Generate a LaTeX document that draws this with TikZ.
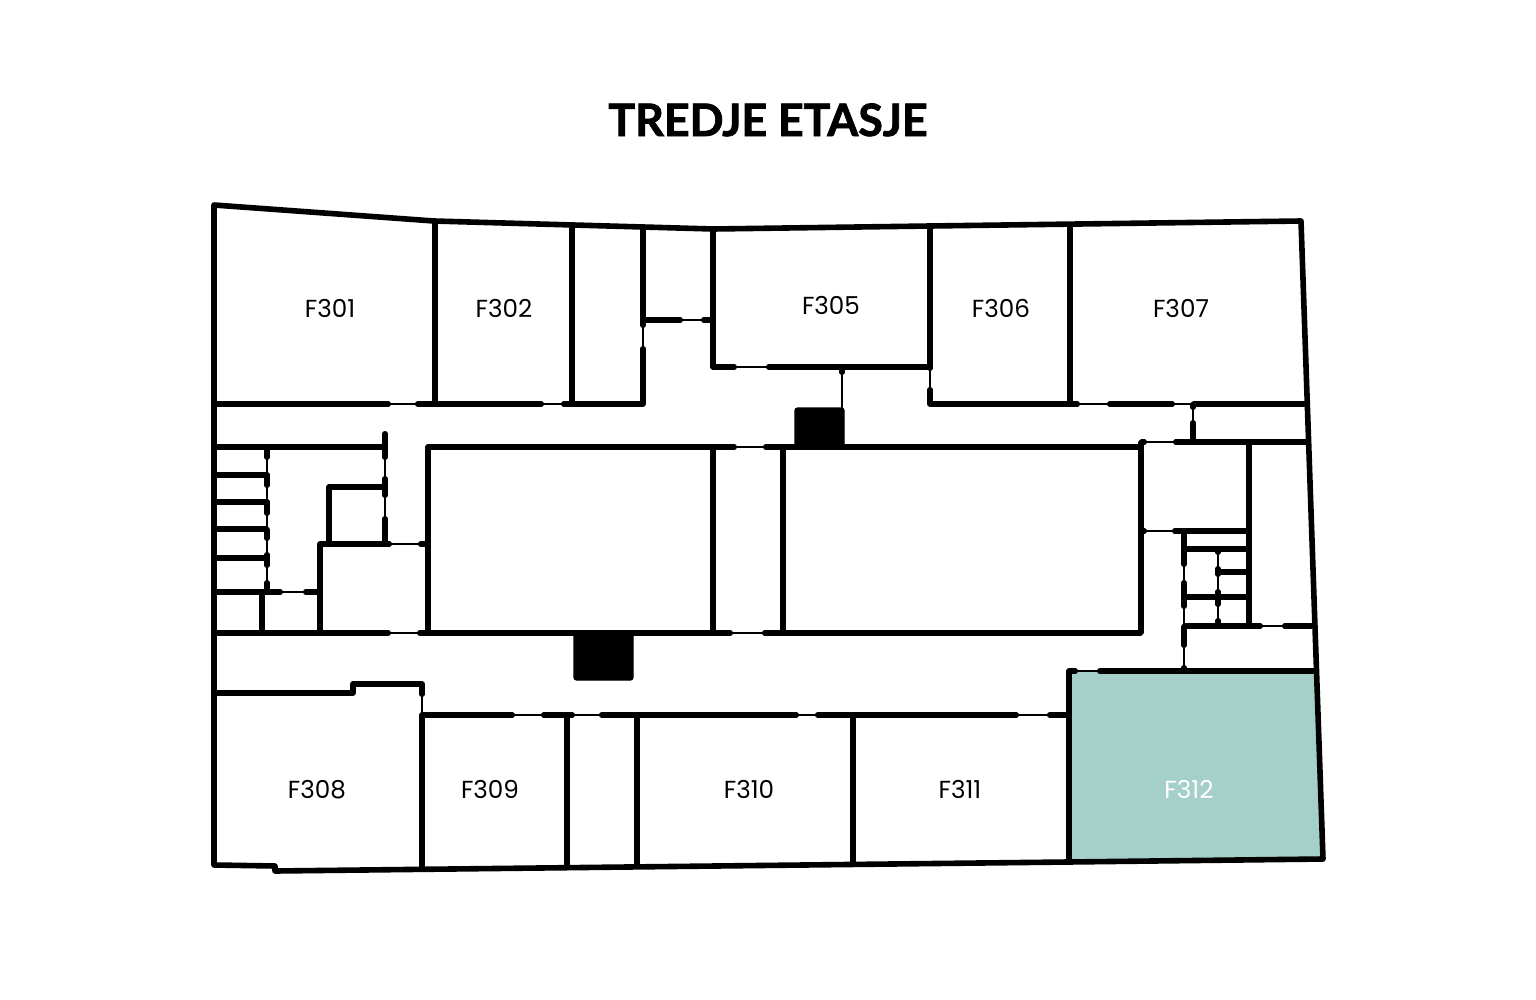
\documentclass[tikz,border=0pt]{standalone}
\usepackage{fontspec}
\setmainfont{Poppins}
\newfontfamily\titlefont[BoldFeatures={FakeBold=1.8}]{Lato}
\usetikzlibrary{positioning}

\definecolor{roomteal}{HTML}{A5CFC9}

\tikzset{
  wall/.style={line width=3.8pt, line cap=round, line join=round, shorten <=1.9pt, shorten >=1.9pt},
  outerwall/.style={line width=4.2pt, line join=round},
  door/.style={line width=1.2pt},
  block/.style={fill=black, draw=black, line width=1pt, rounded corners=2pt},
  room/.style={font=\fontsize{18.5}{20}\selectfont, text height=14.5pt, text depth=0pt},
}

\begin{document}
\begin{tikzpicture}[x=0.75pt,y=-0.75pt]

  \useasboundingbox (0,0) rectangle (1536,1000);

  \node[anchor=base,font=\titlefont\bfseries\fontsize{33.5}{40}\selectfont] (title) at (768,136) {TREDJE ETASJE};

  \fill[roomteal] (1069,671) -- (1316,671) -- (1323,859) -- (1069,862) -- cycle;

  % stair and lift blocks
  \path[block] (795,408) rectangle (844,447);
  \path[block] (574,633) rectangle (633,680);

  % outline
  \draw[outerwall] (214,205) -- (434,221) -- (713,229) -- (930,226) -- (1301,221)
    -- (1323,859) -- (1068,862) -- (275,871) -- (275,866) -- (214,865) -- cycle;

  % top rooms
  \draw[wall] (212,404) -- (391,404);
  \draw[door] (389,404) -- (416,404);
  \draw[wall] (415,404) -- (544,404);
  \draw[door] (543,404) -- (562,404);
  \draw[wall] (561,404) -- (643,404) -- (643,346);
  \draw[door] (643,348) -- (643,326);
  \draw[wall] (643,328) -- (643,227);
  \draw[wall] (435,219) -- (435,406);
  \draw[wall] (572,224) -- (572,406);
  \draw[wall] (641,320) -- (683,320);
  \draw[door] (682,320) -- (702,320);
  \draw[wall] (701,320) -- (715,320);
  \draw[wall] (713,227) -- (713,367) -- (737,367);
  \draw[door] (736,367) -- (767,367);
  \draw[wall] (766,367) -- (932,367);
  \draw[wall] (930,223) -- (930,371);
  \draw[door] (930,369) -- (930,388);
  \draw[wall] (930,387) -- (930,404) -- (1080,404);
  \draw[door] (1079,404) -- (1108,404);
  \draw[wall] (1107,404) -- (1175,404);
  \draw[door] (1174,404) -- (1193,404);
  \draw[wall] (1191,404) -- (1308,404);
  \draw[wall] (1070,223) -- (1070,406);
  \draw[wall] (842,366) -- (842,375);
  \draw[door] (842,373) -- (842,408);

  % middle block
  \draw[wall] (428,633) -- (428,447) -- (737,447);
  \draw[door] (736,447) -- (764,447);
  \draw[wall] (763,447) -- (1141,447);
  \draw[wall] (713,445) -- (713,635);
  \draw[wall] (783,445) -- (783,635);
  \draw[wall] (1141,440) -- (1141,635);
  \draw[wall] (212,633) -- (391,633);
  \draw[door] (390,633) -- (418,633);
  \draw[wall] (417,633) -- (733,633);
  \draw[door] (732,633) -- (763,633);
  \draw[wall] (762,633) -- (1143,633);

  % left stairs
  \draw[wall] (212,447) -- (387,447);
  \draw[wall] (385,431) -- (385,460);
  \draw[door] (385,459) -- (385,477);
  \draw[wall] (385,476) -- (385,498);
  \draw[door] (385,497) -- (385,517);
  \draw[wall] (385,516) -- (385,546);
  \draw[wall] (320,635) -- (320,544) -- (392,544);
  \draw[door] (391,544) -- (419,544);
  \draw[wall] (418,544) -- (430,544);
  \draw[wall] (329,546) -- (329,487) -- (387,487);
  \draw[wall] (212,592) -- (283,592);
  \draw[door] (282,592) -- (304,592);
  \draw[wall] (303,592) -- (322,592);
  \draw[wall] (262,590) -- (262,635);
  \draw[wall] (267,445) -- (267,460);
  \draw[door] (267,459) -- (267,473);
  \draw[wall] (267,472) -- (267,488);
  \draw[door] (267,487) -- (267,500);
  \draw[wall] (267,499) -- (267,516);
  \draw[door] (267,515) -- (267,528);
  \draw[wall] (267,527) -- (267,541);
  \draw[door] (267,540) -- (267,553);
  \draw[wall] (267,552) -- (267,568);
  \draw[door] (267,567) -- (267,581);
  \draw[wall] (267,580) -- (267,594);
  \draw[wall] (212,475) -- (269,475);
  \draw[wall] (212,502) -- (269,502);
  \draw[wall] (212,529) -- (269,529);
  \draw[wall] (212,558) -- (269,558);

  % right stairs
  \draw[wall] (1139,442) -- (1147,442);
  \draw[door] (1141,442) -- (1174,442);
  \draw[wall] (1173,442) -- (1310,442);
  \draw[wall] (1193,402) -- (1193,410);
  \draw[door] (1193,404) -- (1193,421);
  \draw[wall] (1193,420) -- (1193,444);
  \draw[wall] (1249,440) -- (1249,628);
  \draw[wall] (1139,531) -- (1147,531);
  \draw[door] (1141,531) -- (1173,531);
  \draw[wall] (1172,531) -- (1251,531);
  \draw[wall] (1184,529) -- (1184,567);
  \draw[door] (1184,566) -- (1184,581);
  \draw[wall] (1184,580) -- (1184,609);
  \draw[door] (1184,608) -- (1184,626);
  \draw[wall] (1184,624) -- (1184,648);
  \draw[door] (1184,647) -- (1184,671);
  \draw[wall] (1184,665) -- (1184,673);
  \draw[wall] (1182,549) -- (1251,549);
  \draw[wall] (1182,597) -- (1251,597);
  \draw[wall] (1216,572) -- (1251,572);
  \draw[wall] (1218,547) -- (1218,555);
  \draw[door] (1218,553) -- (1218,567);
  \draw[wall] (1218,566) -- (1218,577);
  \draw[door] (1218,576) -- (1218,590);
  \draw[wall] (1218,589) -- (1218,607);
  \draw[door] (1218,606) -- (1218,620);
  \draw[wall] (1218,618) -- (1218,628);
  \draw[wall] (1182,626) -- (1263,626);
  \draw[door] (1262,626) -- (1283,626);
  \draw[wall] (1282,626) -- (1314,626);

  % bottom rooms
  \draw[wall] (212,693) -- (353,693) -- (353,684) -- (422,684) -- (422,697);
  \draw[door] (422,695) -- (422,715);
  \draw[wall] (422,870) -- (422,715) -- (515,715);
  \draw[door] (514,715) -- (542,715);
  \draw[wall] (541,715) -- (575,715);
  \draw[door] (574,715) -- (600,715);
  \draw[wall] (599,715) -- (799,715);
  \draw[door] (798,715) -- (816,715);
  \draw[wall] (815,715) -- (1019,715);
  \draw[door] (1018,715) -- (1048,715);
  \draw[wall] (1047,715) -- (1071,715);
  \draw[wall] (567,713) -- (567,868);
  \draw[wall] (637,713) -- (637,867);
  \draw[wall] (853,713) -- (853,865);
  \draw[wall] (1069,863) -- (1069,671) -- (1078,671);
  \draw[door] (1077,671) -- (1098,671);
  \draw[wall] (1097,671) -- (1318,671);

  \node[room] (f301) at (330,308) {F301};
  \node[room] (f302) at (504,308) {F302};
  \node[room] (f305) at (831,305) {F305};
  \node[room] (f306) at (1001,308) {F306};
  \node[room] (f307) at (1181,308) {F307};
  \node[room] (f308) at (317,789) {F308};
  \node[room] (f309) at (490,789) {F309};
  \node[room] (f310) at (749,789) {F310};
  \node[room] (f311) at (960,789) {F311};
  \node[room,text=white] (f312) at (1189,789) {F312};

\end{tikzpicture}
\end{document}
